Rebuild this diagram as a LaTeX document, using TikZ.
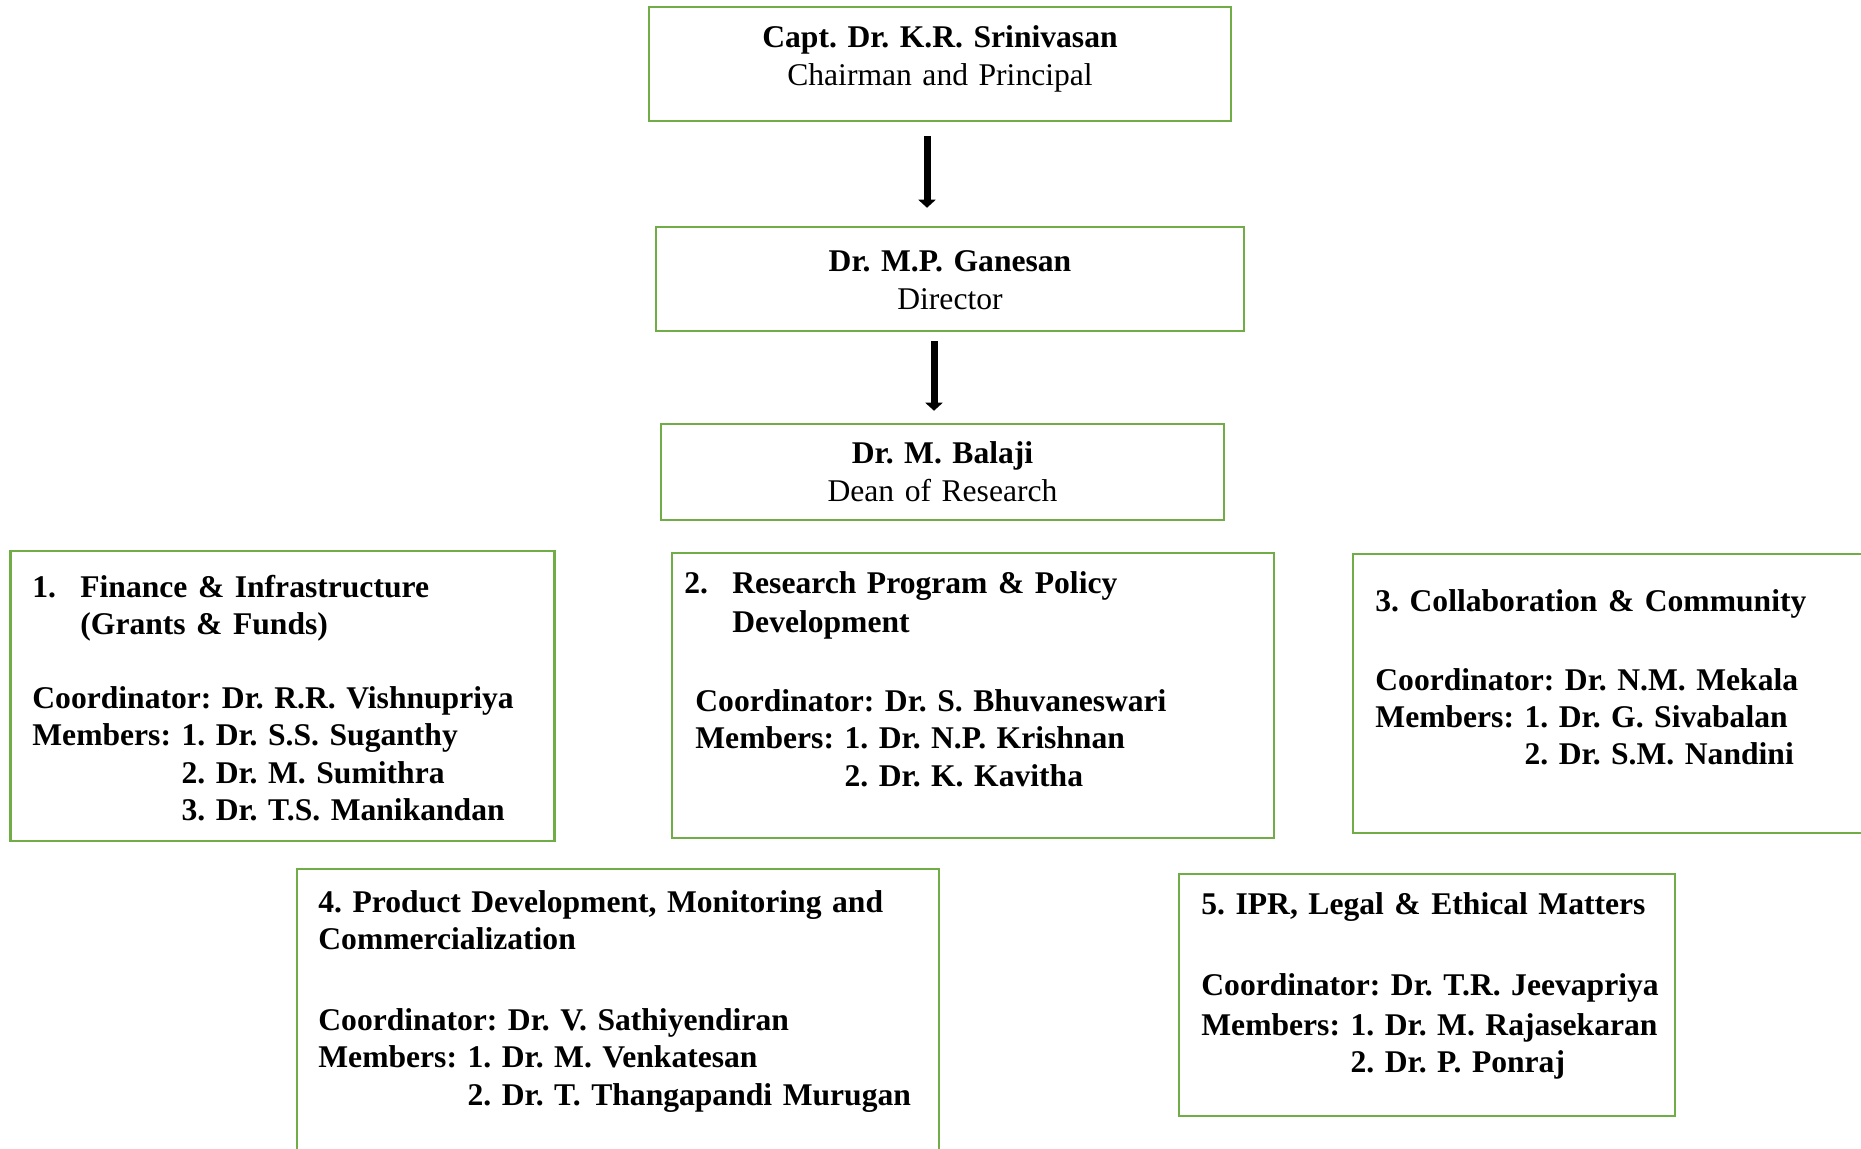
\documentclass[tikz,border=0pt]{standalone}
\usepackage{fontspec}
\setmainfont{Liberation Serif}
\usetikzlibrary{arrows.meta}
\definecolor{boxgreen}{HTML}{70AD47}
\frenchspacing

\begin{document}
\begin{tikzpicture}[x=.5pt,y=-.5pt,
  orgbox/.style={draw=boxgreen,line width=1.25pt,inner sep=0pt},
  headtext/.style={anchor=base,inner sep=0pt,text width=300pt,align=center,font=\fontsize{15.8}{18.9}\selectfont},
  teamtext/.style={anchor=base west,inner sep=0pt,text width=330pt,align=left,font=\bfseries\fontsize{15.8}{18.7}\selectfont},
  flowarrow/.style={line width=3.5pt,-{Triangle[length=4pt,width=8.5pt]}}]
\path[use as bounding box] (0,0) rectangle (1861,1149);

% chain of command
\node[orgbox,minimum width=291pt,minimum height=57pt] (chair) at (940,64) {};
\node[headtext] (chairtxt) at (940,48) {\textbf{Capt. Dr. K.R. Srinivasan}\\Chairman and Principal};
\node[orgbox,minimum width=294pt,minimum height=52pt] (dir) at (950,279) {};
\node[headtext] (dirtxt) at (950,272) {\textbf{Dr. M.P. Ganesan}\\Director};
\node[orgbox,minimum width=281.5pt,minimum height=48pt] (dean) at (942.5,472) {};
\node[headtext] (deantxt) at (942.5,464) {\textbf{Dr. M. Balaji}\\Dean of Research};

\draw[flowarrow,shorten <=7pt,shorten >=9pt] ([xshift=-6.5pt]chair.south) -- ([xshift=-6.5pt]chair.south |- dir.north);
\draw[flowarrow,shorten <=4.5pt,shorten >=6pt] ([xshift=-8pt]dir.south) -- ([xshift=-8pt]dir.south |- dean.north);

% committees
\node[orgbox,minimum width=272pt,minimum height=145pt] (fin) at (282.5,696) {};
\node[teamtext] (fintxt) at (32,597) {\makebox[24pt][l]{1.}Finance \& Infrastructure\\
  \hspace*{24pt}(Grants \& Funds)\\[18.3pt]
  Coordinator: Dr. R.R. Vishnupriya\\
  Members: 1. Dr. S.S. Suganthy\\
  \phantom{Members: }2. Dr. M. Sumithra\\
  \phantom{Members: }3. Dr. T.S. Manikandan};

\node[orgbox,minimum width=301pt,minimum height=142.5pt] (policy) at (973,695.5) {};
\node[teamtext] (policytxt) at (684,593) {\makebox[24pt][l]{2.}Research Program \& Policy\\[.8pt]
  \hspace*{24pt}Development\\[21pt]
  \hspace*{5.5pt}Coordinator: Dr. S. Bhuvaneswari\\
  \hspace*{5.5pt}Members: 1. Dr. N.P. Krishnan\\
  \hspace*{5.5pt}\phantom{Members: }2. Dr. K. Kavitha};

\node[orgbox,minimum width=268.5pt,minimum height=139.5pt] (collab) at (1621.5,693.5) {};
\node[teamtext] (collabtxt) at (1375,611) {3. Collaboration \& Community\\[20.8pt]
  Coordinator: Dr. N.M. Mekala\\
  Members: 1. Dr. G. Sivabalan\\
  \phantom{Members: }2. Dr. S.M. Nandini};

\node[orgbox,minimum width=321pt,minimum height=150.5pt] (product) at (618,1019.5) {};
\node[teamtext] (producttxt) at (318,912) {4. Product Development, Monitoring and\\
  Commercialization\\[21.8pt]
  Coordinator: Dr. V. Sathiyendiran\\
  Members: 1. Dr. M. Venkatesan\\
  \phantom{Members: }2. Dr. T. Thangapandi Murugan};

\node[orgbox,minimum width=248pt,minimum height=121pt] (ipr) at (1427,995) {};
\node[teamtext] (iprtxt) at (1201,914) {5. IPR, Legal \& Ethical Matters\\[21.8pt]
  Coordinator: Dr. T.R. Jeevapriya\\[1.3pt]
  Members: 1. Dr. M. Rajasekaran\\
  \phantom{Members: }2. Dr. P. Ponraj};
\end{tikzpicture}
\end{document}
